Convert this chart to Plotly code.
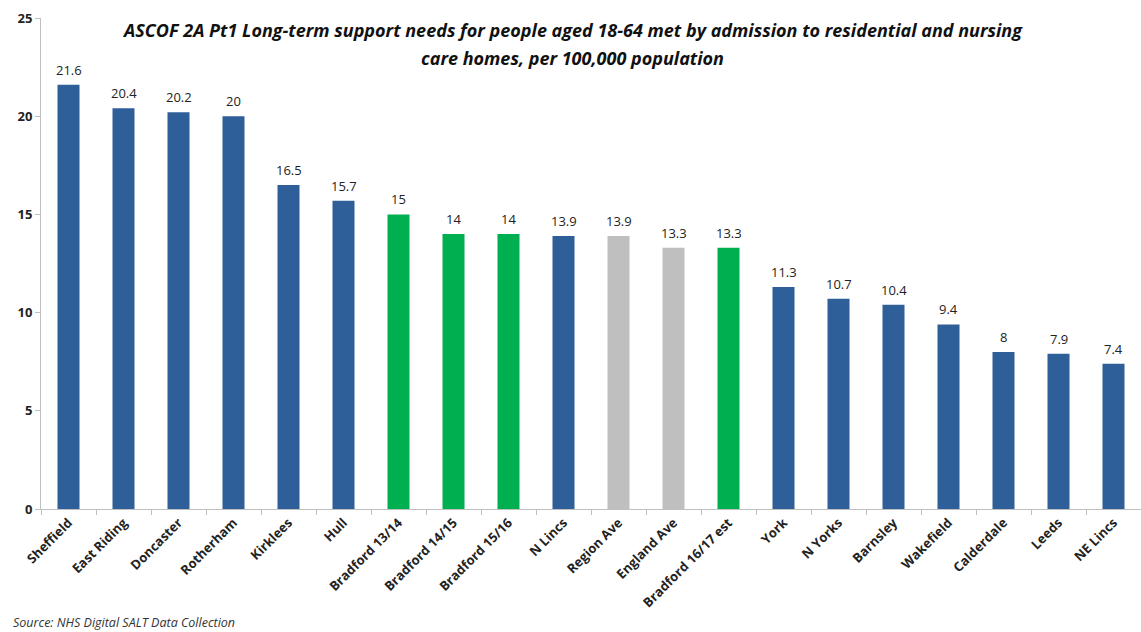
import plotly.graph_objects as go

# Councils / benchmarks and their rate per 100,000 population
categories = ["Sheffield", "East Riding", "Doncaster", "Rotherham", "Kirklees", "Hull",
              "Bradford 13/14", "Bradford 14/15", "Bradford 15/16", "N Lincs",
              "Region Ave", "England Ave", "Bradford 16/17 est", "York", "N Yorks",
              "Barnsley", "Wakefield", "Calderdale", "Leeds", "NE Lincs"]
values = [21.6, 20.4, 20.2, 20, 16.5, 15.7, 15, 14, 14, 13.9,
          13.9, 13.3, 13.3, 11.3, 10.7, 10.4, 9.4, 8, 7.9, 7.4]
groups = ["other"] * 6 + ["bradford"] * 3 + ["other", "average", "average", "bradford"] + ["other"] * 7

title_lines = [
    "ASCOF 2A Pt1 Long-term support needs for people aged 18-64 met by admission to residential and nursing",
    "care homes, per 100,000 population",
]
source_note = "Source: NHS Digital SALT Data Collection"

palette = {"other": "#2F5F98", "bradford": "#00B050", "average": "#BFBFBF"}
colors = [palette[g] for g in groups]
labels = [f"{v:g}" for v in values]

y_ticks = [0, 5, 10, 15, 20, 25]
FONT = "Open Sans, sans-serif"

fig = go.Figure(go.Bar(
    x=categories, y=values,
    marker=dict(color=colors, line=dict(width=0)),
    width=0.4,
))

# Value labels sitting just above each bar
annotations = [
    dict(x=c, y=v, text=t, xref="x", yref="y", xanchor="center", yanchor="bottom",
         yshift=4, showarrow=False,
         font=dict(family=FONT, size=13, color="#222222"))
    for c, v, t in zip(categories, values, labels)
]

title_font = dict(family=FONT, size=18, color="#111111", weight="bold", style="italic")
annotations += [
    dict(text=title_lines[0], xref="paper", yref="paper", x=0.483, y=0.9756,
         xanchor="center", yanchor="middle", showarrow=False, font=title_font),
    dict(text=title_lines[1], xref="paper", yref="paper", x=0.483, y=0.9185,
         xanchor="center", yanchor="middle", showarrow=False, font=title_font),
    dict(text=source_note, xref="paper", yref="paper", x=-0.027, y=-0.232,
         xanchor="left", yanchor="middle", showarrow=False,
         font=dict(family=FONT, size=12.5, color="#333333", style="italic")),
]

fig.update_layout(
    width=1141, height=632,
    margin=dict(l=41, r=0, t=18, b=123),
    paper_bgcolor="white", plot_bgcolor="white",
    showlegend=False,
    xaxis=dict(
        type="category", showline=True, linecolor="#BFBFBF", linewidth=1,
        ticks="outside", tickson="boundaries", ticklen=5, tickcolor="#BFBFBF",
        tickangle=-45, showgrid=False,
        tickfont=dict(family=FONT, size=13, color="#222222", weight="bold"),
    ),
    yaxis=dict(
        range=[0, 25], tickvals=y_ticks, showline=True, linecolor="#BFBFBF", linewidth=1,
        ticks="outside", ticklen=5, tickcolor="#BFBFBF", showgrid=False, zeroline=False,
        tickfont=dict(family=FONT, size=13, color="#222222", weight="bold"),
    ),
    annotations=annotations,
)

fig.write_html("out.html")
